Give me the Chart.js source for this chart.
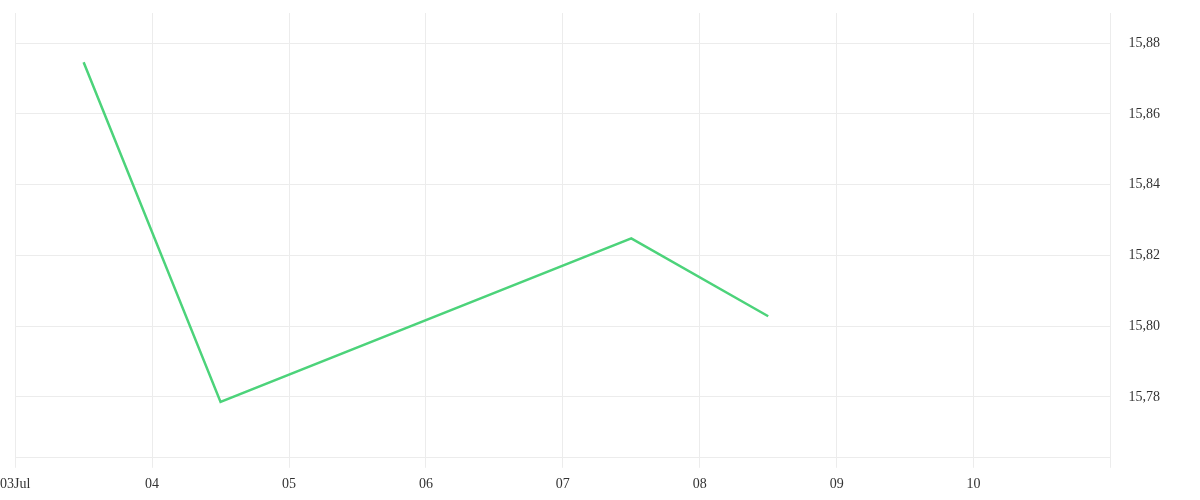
<!DOCTYPE html>
<html>
<head>
<meta charset="utf-8">
<script src="https://cdn.jsdelivr.net/npm/chart.js@4/dist/chart.umd.min.js"></script>
<style>
  html, body { margin: 0; padding: 0; background: #fff; }
  #wrap { width: 1200px; height: 500px; }
</style>
</head>
<body>
<div id="wrap"><canvas id="myChart"></canvas></div>
<script>
// x = day of July (noon readings)
var days = [3.5, 4.5, 7.5, 8.5];
var prices = [15.8746, 15.7786, 15.8248, 15.8028];
var dayTicks = [3, 4, 5, 6, 7, 8, 9, 10, 11];
var dayLabels = ["03Jul", "04", "05", "06", "07", "08", "09", "10", ""];
var priceTicks = [15.78, 15.80, 15.82, 15.84, 15.86, 15.88];

window.onload = function () {
    var ctx = document.getElementById("myChart").getContext("2d");
    var points = days.map(function (d, i) { return { x: d, y: prices[i] }; });
    var family = "'Liberation Serif', 'DejaVu Serif', serif";

    var myLineChart = new Chart(ctx, {
        type: 'line',
        data: {
            datasets: [{
                data: points,
                borderColor: "rgb(76,211,122)",
                borderWidth: 2.5,
                pointRadius: 0,
                fill: false,
                tension: 0
            }]
        },
        options: {
            responsive: true,
            maintainAspectRatio: false,
            animation: false,
            layout: { padding: { top: 13, right: 40, bottom: 0, left: 0 } },
            plugins: { legend: { display: false }, tooltip: { enabled: false } },
            scales: {
                x: {
                    type: 'linear',
                    min: 3,
                    max: 11,
                    afterBuildTicks: function (scale) {
                        scale.ticks = dayTicks.map(function (v) { return { value: v }; });
                    },
                    ticks: {
                        color: "#333",
                        font: { family: family, size: 14, lineHeight: 2.3 },
                        maxRotation: 0,
                        padding: 0,
                        callback: function (v) {
                            var i = dayTicks.indexOf(v);
                            return i < 0 ? "" : dayLabels[i];
                        }
                    },
                    grid: { color: "#ececec", drawTicks: true, tickLength: 10 },
                    border: { display: true, color: "#ececec" }
                },
                y: {
                    position: 'right',
                    min: 15.7628,
                    max: 15.8885,
                    afterBuildTicks: function (scale) {
                        scale.ticks = priceTicks.map(function (v) { return { value: v }; });
                    },
                    ticks: {
                        color: "#333",
                        font: { family: family, size: 14 },
                        padding: 0,
                        callback: function (v) { return v.toFixed(2).replace(".", ","); }
                    },
                    grid: { color: "#ececec", drawTicks: true, tickLength: 18, tickColor: "rgba(0,0,0,0)" },
                    border: { display: true, color: "#ececec" }
                }
            }
        }
    });
};
</script>
</body>
</html>
